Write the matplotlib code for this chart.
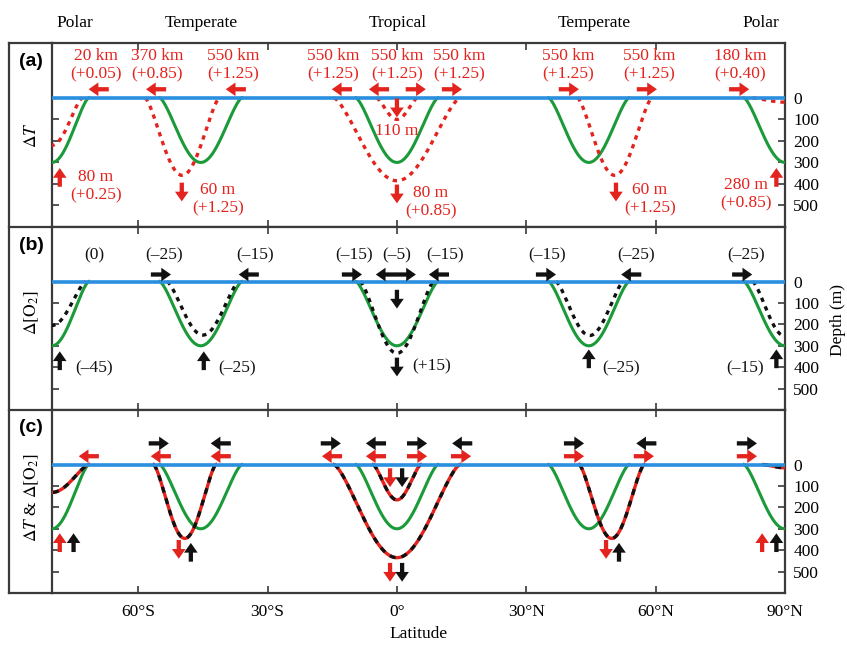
import numpy as np
import matplotlib
matplotlib.use("Agg")
import matplotlib.pyplot as plt
from matplotlib.lines import Line2D

plt.rcParams['font.family'] = ['Liberation Serif', 'DejaVu Serif']
plt.rcParams['mathtext.fontset'] = 'stix'

# ---- datos ----
lat_ticks = [-60, -30, 0, 30, 60, 90]
lat_labels = ['60°S', '30°S', '0°', '30°N', '60°N', '90°N']
depth_ticks = [0, 100, 200, 300, 400, 500]
zones = ['Polar', 'Temperate', 'Tropical', 'Temperate', 'Polar']
zone_lat = [-74.7, -45.3, 0.2, 45.7, 84.5]

# perfil base (verde): centro, semi-ancho (grados), profundidad (m)
green_c = [-80, -45.5, 0, 44.5, 90]
green_w = [8.5, 9.5, 9.5, 9.3, 9.5]
green_d = [300, 300, 300, 300, 300]

# (a) delta T
dT_c = [-80, -49.8, 0, 0, 50.5, 90]
dT_w = [7.0, 8.6, 14.6, 4.7, 8.6, 7.5]
dT_d = [220, 360, 385, 100, 360, 20]

# (b) delta O2
dO2_c = [-80, -45, 0, 44.7, 90]
dO2_w = [7.8, 8.3, 8.5, 7.8, 7.5]
dO2_d = [205, 250, 335, 252, 255]

# (c) ambos
both_c = [-80, -49.2, 0, 0, 49.8, 90]
both_w = [8.5, 7.2, 14.6, 5.5, 7.5, 5.0]
both_d = [130, 345, 435, 165, 345, 15]

# flechas (a)
a_h_lat = [-71.5, -58.2, -39.7, -15.1, -6.5, 6.7, 15.1, 42.2, 60.3, 81.7]
a_h_dir = [-1, -1, -1, -1, -1, 1, 1, 1, 1, 1]
a_v_lat = [-78.2, -49.9, 0, 0, 50.8, 88]
a_v_depth = [326, 481, 90, 490, 481, 326]
a_v_dir = [-1, 1, 1, 1, 1, -1]
a_top_text = ['20 km\n(+0.05)', '370 km\n(+0.85)', '550 km\n(+1.25)',
              '550 km\n(+1.25)', '550 km\n(+1.25)', '550 km\n(+1.25)',
              '550 km\n(+1.25)', '550 km\n(+1.25)', '180 km\n(+0.40)']
a_top_lat = [-69.8, -55.7, -38.0, -14.8, 0, 14.4, 39.7, 58.5, 79.6]
a_low_text = ['80 m\n(+0.25)', '60 m\n(+1.25)', '110 m', '80 m\n(+0.85)',
              '60 m\n(+1.25)', '280 m\n(+0.85)']
a_low_lat = [-69.8, -41.5, 0, 7.9, 58.7, 81]
a_low_depth = [410, 471, 152, 485, 471, 448]

# flechas (b)
b_h_lat = [-52.4, -36.7, -8.1, -4.9, 4.4, 7.4, 36.9, 52.0, 82.4]
b_h_dir = [1, -1, 1, -1, 1, -1, 1, -1, 1]
b_v_lat = [-78.2, -44.8, 0, 0, 44.5, 88]
b_v_depth = [326, 326, 126, 443, 317, 317]
b_v_dir = [-1, -1, 1, 1, -1, -1]
b_top_text = ['(0)', '(\u201325)', '(\u201315)', '(\u201315)', '(\u20135)',
              '(\u201315)', '(\u201315)', '(\u201325)', '(\u201325)']
b_top_lat = [-70.1, -54.1, -32.9, -10.0, 0, 11.1, 34.8, 55.5, 81.0]
b_low_text = ['(\u201345)', '(\u201325)', '(+15)', '(\u201325)', '(\u201315)']
b_low_lat = [-70.3, -37.1, 8.1, 52.0, 80.8]
b_low_depth = [405, 405, 396, 405, 405]

# flechas (c)
c_kh_lat = [-52.9, -43.2, -13.0, -7.2, 7.0, 12.8, 43.4, 55.5, 83.5]
c_kh_dir = [1, -1, 1, -1, 1, -1, 1, -1, 1]
c_rh_lat = [-73.8, -57.1, -43.2, -17.4, -7.2, 7.0, 17.2, 43.4, 59.6, 83.5]
c_rh_dir = [-1, -1, -1, -1, -1, 1, 1, 1, 1, 1]
c_rv_lat = [-78.2, -50.6, -1.6, -1.6, 48.5, 84.7]
c_rv_depth = [321, 440, 105, 547, 440, 321]
c_rv_dir = [-1, 1, 1, 1, 1, -1]
c_kv_lat = [-75.0, -47.8, 1.2, 1.2, 51.5, 88]
c_kv_depth = [321, 366, 105, 547, 366, 321]
c_kv_dir = [-1, -1, 1, 1, -1, -1]

RED = '#e3231e'
BLACK = '#111111'
GREEN = '#1b9a3a'
BLUE = '#2a8fde'
GRAY = '#3a3a3a'
FS = 12.5


def bump(ax, c, w, d, **kw):
    # fosa suave en forma de U
    x = np.linspace(c - w, c + w, 300)
    u = np.abs(x - c) / w
    y = d * ((1 + np.cos(np.pi * u)) / 2) ** 0.7
    ax.plot(x, y, **kw)


def harrow(ax, x, y, direction, color):
    ax.annotate('', xy=(x, y), xytext=(-direction * 14.5, 0), textcoords='offset points',
                arrowprops=dict(arrowstyle='simple,head_length=0.5,head_width=0.7,tail_width=0.22',
                                fc=color, ec='none', mutation_scale=14, shrinkA=0, shrinkB=0),
                annotation_clip=False, zorder=5)


def varrow(ax, x, y, direction, color):
    # direction 1 = hacia abajo (mas profundo)
    ax.annotate('', xy=(x, y), xytext=(0, direction * 13.5), textcoords='offset points',
                arrowprops=dict(arrowstyle='simple,head_length=0.5,head_width=0.7,tail_width=0.22',
                                fc=color, ec='none', mutation_scale=14, shrinkA=0, shrinkB=0),
                annotation_clip=False, zorder=5)


W, H = 847, 645
fig = plt.figure(figsize=(W / 100, H / 100), dpi=100)
left, right = 52, 785
tops = [43, 227, 410]
bots = [227, 410, 593]
axes = []
for t, b in zip(tops, bots):
    ax = fig.add_axes([left / W, 1 - b / H, (right - left) / W, (b - t) / H])
    axes.append(ax)

for i, ax in enumerate(axes):
    ax.set_xlim(-80, 90)
    ax.set_ylim(600, -255)
    ax.set_xticks(lat_ticks)
    ax.set_yticks(depth_ticks)
    ax.tick_params(axis='x', direction='in', top=True, bottom=True, length=5,
                   width=1.2, color=GRAY, labelsize=FS, labelbottom=(i == 2), pad=8)
    ax.tick_params(axis='y', direction='in', left=True, right=True, length=5,
                   width=1.2, color=GRAY, labelsize=FS, labelleft=False, labelright=True, pad=6)
    if i == 2:
        ax.set_xticklabels(lat_labels)
    for s in ax.spines.values():
        s.set_color(GRAY)
        s.set_linewidth(1.6)
    ax.axhline(0, color=BLUE, lw=2.6, zorder=4)
    for c, w, d in zip(green_c, green_w, green_d):
        bump(ax, c, w, d, color=GREEN, lw=2.2, zorder=3)

ax_a, ax_b, ax_c = axes

# (a)
for c, w, d in zip(dT_c, dT_w, dT_d):
    bump(ax_a, c, w, d, color=RED, lw=2.4, ls=(0, (1.3, 1.5)), zorder=3)
for x, s in zip(a_h_lat, a_h_dir):
    harrow(ax_a, x, -40, s, RED)
for x, y, s in zip(a_v_lat, a_v_depth, a_v_dir):
    varrow(ax_a, x, y, s, RED)
for x, t in zip(a_top_lat, a_top_text):
    ax_a.text(x, -152, t, color=RED, fontsize=FS, ha='center', va='center', linespacing=1.15)
for x, y, t in zip(a_low_lat, a_low_depth, a_low_text):
    ax_a.text(x, y, t, color=RED, fontsize=FS, ha='center', va='center', linespacing=1.15)

# (b)
for c, w, d in zip(dO2_c, dO2_w, dO2_d):
    bump(ax_b, c, w, d, color=BLACK, lw=2.4, ls=(0, (1.3, 1.5)), zorder=3)
for x, s in zip(b_h_lat, b_h_dir):
    harrow(ax_b, x, -33, s, BLACK)
for x, y, s in zip(b_v_lat, b_v_depth, b_v_dir):
    varrow(ax_b, x, y, s, BLACK)
for x, t in zip(b_top_lat, b_top_text):
    ax_b.text(x, -121, t, color=BLACK, fontsize=FS, ha='center', va='center')
for x, y, t in zip(b_low_lat, b_low_depth, b_low_text):
    ax_b.text(x, y, t, color=BLACK, fontsize=FS, ha='center', va='center')

# (c)
for c, w, d in zip(both_c, both_w, both_d):
    bump(ax_c, c, w, d, color=RED, lw=2.4, zorder=3)
    bump(ax_c, c, w, d, color=BLACK, lw=2.4, ls=(0, (1.8, 1.8)), zorder=3)
for x, s in zip(c_kh_lat, c_kh_dir):
    harrow(ax_c, x, -99, s, BLACK)
for x, s in zip(c_rh_lat, c_rh_dir):
    harrow(ax_c, x, -39, s, RED)
for x, y, s in zip(c_rv_lat, c_rv_depth, c_rv_dir):
    varrow(ax_c, x, y, s, RED)
for x, y, s in zip(c_kv_lat, c_kv_depth, c_kv_dir):
    varrow(ax_c, x, y, s, BLACK)

ax_c.set_xlabel('Latitude', fontsize=FS, labelpad=4)

# zonas arriba
for x, z in zip(zone_lat, zones):
    ax_a.text(x, -350, z, fontsize=FS, ha='center', va='center', clip_on=False)

# marco exterior izquierdo
fx = 9 / W
fig.add_artist(Line2D([fx, fx], [1 - 43 / H, 1 - 593 / H], color=GRAY, lw=1.6))
for yy in [43, 227, 410, 593]:
    fig.add_artist(Line2D([fx, left / W], [1 - yy / H, 1 - yy / H], color=GRAY, lw=1.6))

# etiquetas de panel
for lab, yy in zip(['(a)', '(b)', '(c)'], [61, 245, 428]):
    fig.text(31 / W, 1 - yy / H, lab, fontsize=14, fontweight='bold',
             family='Liberation Sans', ha='center', va='center')

fig.text(32 / W, 1 - 135 / H, r'$\Delta T$', fontsize=FS, rotation=90, ha='center', va='center')
fig.text(32 / W, 1 - 313 / H, r'$\Delta[\mathrm{O}_2]$', fontsize=FS, rotation=90, ha='center', va='center')
fig.text(32 / W, 1 - 498 / H, r'$\Delta T$ & $\Delta[\mathrm{O}_2]$', fontsize=FS, rotation=90,
         ha='center', va='center')
fig.text(838 / W, 1 - 320 / H, 'Depth (m)', fontsize=FS, rotation=90, ha='center', va='center')

fig.savefig('out.png', dpi=100)
